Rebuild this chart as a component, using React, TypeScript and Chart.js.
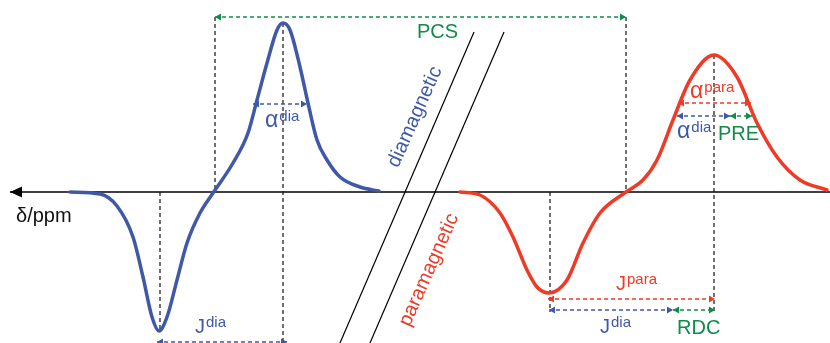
import React, { useEffect, useRef } from 'react';
import { Chart, registerables } from 'chart.js';

Chart.register(...registerables);

const W = 830;
const H = 343;

// Diamagnetic (blue) spectrum trace
const diaX = [70, 100, 117, 133, 143, 152, 159, 167, 177, 187, 200, 213, 233, 248, 257, 267, 277, 283, 290, 300, 308, 317, 327, 340, 360, 379];
const diaY = [192, 194, 206, 237, 277, 317, 331, 317, 280, 243, 213, 193, 163, 133, 100, 63, 30, 23, 30, 67, 103, 140, 160, 177, 187, 191];

// Paramagnetic (red) spectrum trace
const paraX = [460, 480, 500, 513, 527, 537, 549, 567, 583, 600, 626, 643, 657, 673, 690, 714, 737, 757, 777, 800, 827];
const paraY = [192, 195, 213, 237, 270, 287, 293, 280, 243, 213, 192, 180, 160, 120, 80, 55, 77, 123, 157, 180, 190];

// Chemical shift axis
const axisY = 192;
const axisStart = 10;
const axisEnd = 830;

// Vertical dashed guides
const guideX = [160, 215, 283, 550, 626, 714];
const guideTop = [192, 17, 23, 192, 17, 55];
const guideBottom = [330, 192, 343, 312, 192, 312];

// Break lines (diagonals)
const breakTopX = [474, 504];
const breakBottomX = [340, 370];
const breakTopY = 32;
const breakBottomY = 343;

// Double-headed measurement arrows
const arrowNames = ['PCS', 'adiaL', 'JdiaL', 'apara', 'adiaR', 'PRE', 'Jpara', 'JdiaR', 'RDC'];
const arrowX1 = [215, 253, 157, 678, 677, 730, 548, 549, 673];
const arrowX2 = [626, 307, 287, 751, 730, 752, 715, 673, 715];
const arrowY = [17, 104, 342, 103, 116, 116, 299, 310, 310];
const arrowKind = ['green', 'blue', 'blue', 'red', 'blue', 'green', 'red', 'blue', 'green'];

// Text labels
const labelBase = ['δ/ppm', 'PCS', 'α', 'J', 'α', 'α', 'PRE', 'J', 'J', 'RDC'];
const labelSup = ['', '', 'dia', 'dia', 'para', 'dia', '', 'para', 'dia', ''];
const labelX = [16, 417, 265, 195, 690, 677, 718, 616, 600, 677];
const labelY = [222, 38, 127, 333, 98, 138, 140, 290, 333, 334];
const labelKind = ['black', 'green', 'blue', 'blue', 'red', 'blue', 'green', 'red', 'blue', 'green'];

const rotText = ['diamagnetic', 'paramagnetic'];
const rotX = [415, 429];
const rotY = [117, 270];
const rotKind = ['blue', 'red'];
const rotAngle = -66;

const COLORS: Record<string, string> = {
  blue: '#3f58a8',
  red: '#ee3a26',
  green: '#0f8d48',
  black: '#111111',
};

const FONT = '"Liberation Sans", Arial, Helvetica, sans-serif';

function makeHead(color: string, len: number, half: number): HTMLCanvasElement {
  const c = document.createElement('canvas');
  const s = Math.ceil(len * 2 + 2);
  c.width = s;
  c.height = s;
  const g = c.getContext('2d')!;
  const cx = s / 2;
  g.fillStyle = color;
  g.beginPath();
  g.moveTo(cx, cx);
  g.lineTo(cx + half, cx + len);
  g.lineTo(cx - half, cx + len);
  g.closePath();
  g.fill();
  return c;
}

const textPlugin = {
  id: 'diagramText',
  afterDatasetsDraw(chart: any) {
    const { ctx, scales } = chart;
    const sx = scales.x;
    const sy = scales.y;
    ctx.save();
    ctx.textBaseline = 'alphabetic';
    ctx.textAlign = 'left';
    for (let i = 0; i < labelBase.length; i++) {
      const px = sx.getPixelForValue(labelX[i]);
      const py = sy.getPixelForValue(labelY[i]);
      const color = COLORS[labelKind[i]];
      ctx.fillStyle = color;
      const isAlpha = labelBase[i] === 'α';
      ctx.font = `${isAlpha ? 23 : 20}px ${FONT}`;
      ctx.fillText(labelBase[i], px, py);
      const w = ctx.measureText(labelBase[i]).width;
      if (labelSup[i]) {
        ctx.font = `15px ${FONT}`;
        ctx.fillText(labelSup[i], px + w + 1, py - 6);
      }
    }
    for (let i = 0; i < rotText.length; i++) {
      const px = sx.getPixelForValue(rotX[i]);
      const py = sy.getPixelForValue(rotY[i]);
      ctx.save();
      ctx.translate(px, py);
      ctx.rotate((rotAngle * Math.PI) / 180);
      ctx.fillStyle = COLORS[rotKind[i]];
      ctx.font = `20px ${FONT}`;
      ctx.textAlign = 'center';
      ctx.textBaseline = 'middle';
      ctx.fillText(rotText[i], 0, 0);
      ctx.restore();
    }
    ctx.restore();
  },
};

export default function App() {
  const ref = useRef<HTMLCanvasElement>(null);

  useEffect(() => {
    if (!ref.current) return;
    const heads: Record<string, HTMLCanvasElement> = {
      blue: makeHead(COLORS.blue, 6, 3.5),
      red: makeHead(COLORS.red, 6, 3.5),
      green: makeHead(COLORS.green, 6, 3.5),
    };
    const axisHead = makeHead('#000000', 12, 5.5);

    const datasets: any[] = [];

    datasets.push({
      label: 'diamagnetic',
      data: diaX.map((x, i) => ({ x, y: diaY[i] })),
      borderColor: COLORS.blue,
      borderWidth: 3.5,
      pointRadius: 0,
      cubicInterpolationMode: 'monotone',
      fill: false,
      borderCapStyle: 'round',
    });
    datasets.push({
      label: 'paramagnetic',
      data: paraX.map((x, i) => ({ x, y: paraY[i] })),
      borderColor: COLORS.red,
      borderWidth: 3.5,
      pointRadius: 0,
      cubicInterpolationMode: 'monotone',
      fill: false,
      borderCapStyle: 'round',
    });

    arrowNames.forEach((name, i) => {
      const color = COLORS[arrowKind[i]];
      datasets.push({
        label: name,
        data: [
          { x: arrowX1[i], y: arrowY[i] },
          { x: arrowX2[i], y: arrowY[i] },
        ],
        borderColor: color,
        borderWidth: 1.3,
        borderDash: [4, 3],
        pointStyle: heads[arrowKind[i]],
        pointRadius: 3,
        pointRotation: [-90, 90],
        tension: 0,
        fill: false,
      });
    });

    guideX.forEach((gx, i) => {
      datasets.push({
        label: 'guide' + i,
        data: [
          { x: gx, y: guideTop[i] },
          { x: gx, y: guideBottom[i] },
        ],
        borderColor: '#111111',
        borderWidth: 1.2,
        borderDash: [4, 3],
        pointRadius: 0,
        tension: 0,
        fill: false,
      });
    });

    breakTopX.forEach((tx, i) => {
      datasets.push({
        label: 'break' + i,
        data: [
          { x: tx, y: breakTopY },
          { x: breakBottomX[i], y: breakBottomY },
        ],
        borderColor: '#000000',
        borderWidth: 1.2,
        pointRadius: 0,
        tension: 0,
        fill: false,
      });
    });

    datasets.push({
      label: 'axis',
      data: [
        { x: axisStart, y: axisY },
        { x: axisEnd, y: axisY },
      ],
      borderColor: '#000000',
      borderWidth: 1.5,
      pointStyle: axisHead,
      pointRadius: [3, 0],
      pointRotation: [-90, 0],
      tension: 0,
      fill: false,
    });

    const chart = new Chart(ref.current, {
      type: 'line',
      data: { datasets },
      options: {
        animation: false,
        responsive: false,
        events: [],
        layout: { padding: 0, autoPadding: false } as any,
        plugins: {
          legend: { display: false },
          tooltip: { enabled: false },
        },
        scales: {
          x: { type: 'linear', min: 0, max: W, display: false },
          y: { type: 'linear', min: 0, max: H, reverse: true, display: false },
        },
      },
      plugins: [textPlugin],
    });
    return () => chart.destroy();
  }, []);

  return (
    <div style={{ position: 'fixed', left: 0, top: 0, width: W, height: H, background: '#fff' }}>
      <canvas ref={ref} width={W} height={H} style={{ display: 'block' }} />
    </div>
  );
}
